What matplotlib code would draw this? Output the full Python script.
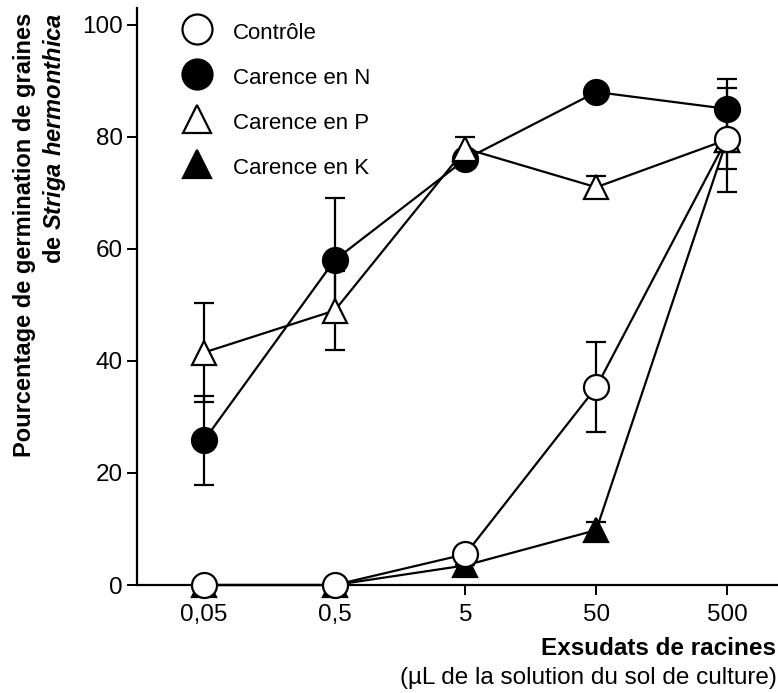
import matplotlib
matplotlib.use("Agg")
import matplotlib.pyplot as plt
from matplotlib.lines import Line2D
import numpy as np

plt.rcParams['font.family'] = ['Liberation Sans', 'DejaVu Sans']
plt.rcParams['mathtext.fontset'] = 'custom'
plt.rcParams['mathtext.rm'] = 'Liberation Sans:bold'
plt.rcParams['mathtext.bf'] = 'Liberation Sans:bold'
plt.rcParams['mathtext.it'] = 'Liberation Sans:bold:italic'

# exudate volumes (uL) and tick labels
doses = [0.05, 0.5, 5, 50, 500]
dose_labels = ['0,05', '0,5', '5', '50', '500']

# germination (%) and error bars
controle = [0, 0, 5.5, 35.3, 79.7]
controle_err = [0, 0, 0, 8, 5.4]
carence_n = [25.8, 58, 76, 88, 85]
carence_n_err = [8, 11, 0, 0, 5.4]
carence_p = [41.5, 49, 77.9, 71, 79.5]
carence_p_err = [8.8, 7, 2, 2, 9.3]
carence_k = [0, 0, 3.5, 9.8, 79.5]
carence_k_err = [0, 0, 0, 1.5, 0]

fig = plt.figure(figsize=(7.78, 6.93), dpi=100)
ax = fig.add_axes([137/778, 108/693, 641/778, 577/693])

series = [
    (carence_n, carence_n_err, 'o', 'black', 18, 3.0),
    (carence_k, carence_k_err, '^', 'black', 17, 3.1),
    (carence_p, carence_p_err, '^', 'white', 17, 3.2),
    (controle, controle_err, 'o', 'white', 18, 3.3),
]
for y, err, mk, fc, ms, z in series:
    ax.errorbar(doses, y, yerr=err, fmt='none', ecolor='black',
                elinewidth=1.6, capsize=7, capthick=1.6, zorder=2)
    ax.plot(doses, y, color='black', lw=1.6, marker=mk, ms=ms,
            mfc=fc, mec='black', mew=1.6, zorder=z, clip_on=False)

ax.set_xscale('log')
ax.set_xlim(0.01537, 1228)
ax.set_ylim(0, 103)
ax.set_xticks(doses)
ax.set_xticklabels(dose_labels)
ax.minorticks_off()
ax.set_yticks([0, 20, 40, 60, 80, 100])

for s in ['top', 'right']:
    ax.spines[s].set_visible(False)
for s in ['left', 'bottom']:
    ax.spines[s].set_linewidth(1.6)
ax.tick_params(axis='both', length=7, width=1.4, labelsize=17.5)
ax.tick_params(axis='y', pad=3)
ax.tick_params(axis='x', pad=7)

handles = [
    Line2D([], [], ls='none', marker='o', ms=18, mfc='white', mec='black', mew=1.6),
    Line2D([], [], ls='none', marker='o', ms=18, mfc='black', mec='black', mew=1.6),
    Line2D([], [], ls='none', marker='^', ms=17, mfc='white', mec='black', mew=1.6),
    Line2D([], [], ls='none', marker='^', ms=17, mfc='black', mec='black', mew=1.6),
]
labels = ['Contrôle', 'Carence en N', 'Carence en P', 'Carence en K']
fig.legend(handles, labels, loc='upper left', bbox_to_anchor=(186/778, 1 - 20/693),
           frameon=False, fontsize=16, markerscale=1.2, handlelength=1.0,
           handletextpad=1.12, handleheight=1.2, labelspacing=0.95,
           borderpad=0, borderaxespad=0)

fig.text(25/778, 1 - 13/693, 'Pourcentage de germination de graines', rotation=90,
         ha='center', va='top', fontsize=17, fontweight='bold')
fig.text(54/778, 1 - 13/693, r'de $\mathit{Striga\ hermonthica}$', rotation=90,
         ha='center', va='top', fontsize=17, fontweight='bold')

fig.text(0.998, 1 - 655/693, 'Exsudats de racines', ha='right', va='baseline',
         fontsize=17.5, fontweight='bold')
fig.text(0.998, 1 - 684/693, '(µL de la solution du sol de culture)', ha='right',
         va='baseline', fontsize=17.5)

fig.savefig('out.png', dpi=100)
